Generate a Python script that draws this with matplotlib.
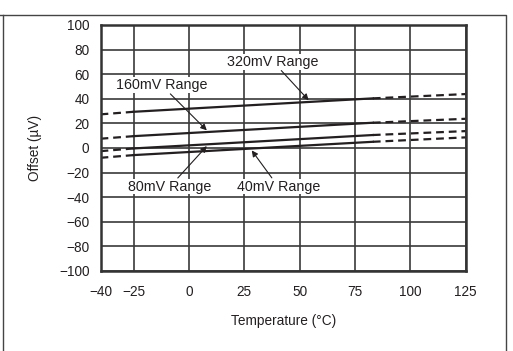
import matplotlib.pyplot as plt
from matplotlib.lines import Line2D

plt.rcParams['font.family'] = ['Liberation Sans', 'DejaVu Sans']

# temperature break points: dashed ends, solid middle
temps = [-40, -25, 83, 125]
off_320 = [27.3, 29.4, 40.3, 43.8]
off_160 = [7.5, 9.6, 20.5, 23.7]
off_80 = [-2.6, -0.4, 10.5, 13.7]
off_40 = [-8.0, -5.8, 5.0, 8.6]

xticks = [-40, -25, 0, 25, 50, 75, 100, 125]
yticks = list(range(-100, 101, 20))

ink = '#231f20'

fig = plt.figure(figsize=(5.13, 3.51), dpi=100)
ax = fig.add_axes([0.196, 0.228, 0.712, 0.701])

for off in [off_320, off_160, off_80, off_40]:
    ax.plot(temps[0:2], off[0:2], color=ink, lw=1.6, dashes=(3.5, 2.2))
    ax.plot(temps[1:3], off[1:3], color=ink, lw=1.6)
    ax.plot(temps[2:4], off[2:4], color=ink, lw=1.6, dashes=(3.5, 2.2))

ax.set_xlim(-40, 125)
ax.set_ylim(-100, 100)
ax.set_xticks(xticks)
ax.set_yticks(yticks)
ax.grid(True, color='#3a3a3a', lw=1.2)
ax.tick_params(length=0, labelsize=9.8, colors=ink)
ax.tick_params(axis='x', pad=10)
ax.tick_params(axis='y', pad=8)
for s in ax.spines.values():
    s.set_linewidth(1.8)
    s.set_color('#333333')

ax.set_xlabel('Temperature (°C)', fontsize=9.8, color=ink, labelpad=11)
ax.set_ylabel('Offset (µV)', fontsize=9.8, color=ink, labelpad=12)

arrow = dict(arrowstyle='-|>', color=ink, lw=0.8, mutation_scale=9, shrinkA=1, shrinkB=0)
box = dict(fc='white', ec='none', pad=0.5)
ax.annotate('320mV Range', xy=(54, 38.8), xytext=(38, 70), ha='center', va='center',
            fontsize=10.3, color=ink, arrowprops=arrow, bbox=box)
ax.annotate('160mV Range', xy=(8, 14.3), xytext=(-12.4, 51), ha='center', va='center',
            fontsize=10.3, color=ink, arrowprops=arrow, bbox=box)
ax.annotate('80mV Range', xy=(8, 1.5), xytext=(-8.7, -31.5), ha='center', va='center',
            fontsize=10.3, color=ink, arrowprops=arrow, bbox=box)
ax.annotate('40mV Range', xy=(28.3, -2), xytext=(40.3, -31.5), ha='center', va='center',
            fontsize=10.3, color=ink, arrowprops=arrow, bbox=box)

# outer frame of the figure panel
W, H = 513.0, 351.0
fig.add_artist(Line2D([0, 506 / W, 506 / W], [1 - 15 / H, 1 - 15 / H, 0],
                      transform=fig.transFigure, color='#444444', lw=1.0))
fig.add_artist(Line2D([3 / W, 3 / W], [1 - 15 / H, 0],
                      transform=fig.transFigure, color='#444444', lw=1.0))

fig.savefig('out.png', dpi=100)
